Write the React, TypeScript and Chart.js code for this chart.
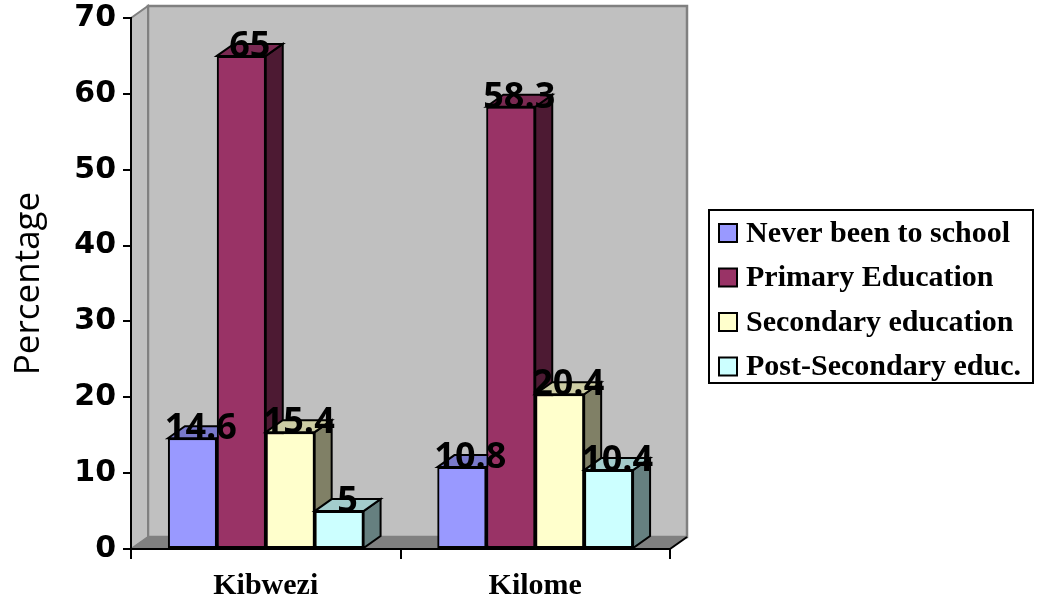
import { useEffect, useRef } from "react";
import { Chart, registerables } from "chart.js";

Chart.register(...registerables);

// Survey data: education level by location (percent)
const categories = ["Kibwezi", "Kilome"];
const seriesNames = [
  "Never been to school",
  "Primary Education",
  "Secondary education",
  "Post-Secondary educ.",
];
const neverBeen = [14.6, 10.8];
const primaryEd = [65, 58.3];
const secondaryEd = [15.4, 20.4];
const postSecondaryEd = [5, 10.4];
const yMin = 0;
const yMax = 70;
const yStep = 10;

const frontColors = ["#9999FF", "#993366", "#FFFFCC", "#CCFFFF"];

// depth of the pseudo-3D extrusion
const DX = 17;
const DY = -12;

function shade(hex: string, f: number): string {
  const n = parseInt(hex.slice(1), 16);
  const r = Math.round(((n >> 16) & 255) * f);
  const g = Math.round(((n >> 8) & 255) * f);
  const b = Math.round((n & 255) * f);
  return `rgb(${r},${g},${b})`;
}

function poly(ctx: CanvasRenderingContext2D, pts: number[][], fill: string, stroke: string, lw: number) {
  ctx.beginPath();
  ctx.moveTo(pts[0][0], pts[0][1]);
  for (let i = 1; i < pts.length; i++) ctx.lineTo(pts[i][0], pts[i][1]);
  ctx.closePath();
  ctx.fillStyle = fill;
  ctx.fill();
  ctx.lineWidth = lw;
  ctx.strokeStyle = stroke;
  ctx.lineJoin = "miter";
  ctx.stroke();
}

const room3d = {
  id: "room3d",
  beforeDraw(chart: any) {
    const { ctx, chartArea } = chart;
    const { left, right, top, bottom } = chartArea;
    ctx.save();
    // back wall
    poly(
      ctx,
      [
        [left + DX, top + DY],
        [right + DX, top + DY],
        [right + DX, bottom + DY],
        [left + DX, bottom + DY],
      ],
      "#C0C0C0",
      "#808080",
      2.5
    );
    // side wall
    poly(
      ctx,
      [
        [left, top],
        [left + DX, top + DY],
        [left + DX, bottom + DY],
        [left, bottom],
      ],
      "#C0C0C0",
      "#808080",
      2
    );
    // floor
    poly(
      ctx,
      [
        [left, bottom],
        [left + DX, bottom + DY],
        [right + DX, bottom + DY],
        [right, bottom],
      ],
      "#808080",
      "#808080",
      1
    );
    ctx.beginPath();
    ctx.moveTo(right, bottom);
    ctx.lineTo(right + DX, bottom + DY);
    ctx.strokeStyle = "#000";
    ctx.lineWidth = 2;
    ctx.stroke();
    ctx.restore();
  },
};

const bars3d = {
  id: "bars3d",
  afterDatasetsDraw(chart: any) {
    const { ctx } = chart;
    ctx.save();
    // redraw bars left to right so each front face hides the neighbour's side
    chart.data.datasets.forEach((ds: any, di: number) => {
      const meta = chart.getDatasetMeta(di);
      const base = frontColors[di];
      meta.data.forEach((el: any) => {
        const { x, y, base: b, width } = el.getProps(["x", "y", "base", "width"], true);
        const x0 = x - width / 2;
        const x1 = x + width / 2;
        poly(
          ctx,
          [
            [x1, y],
            [x1 + DX, y + DY],
            [x1 + DX, b + DY],
            [x1, b],
          ],
          shade(base, 0.5),
          "#000",
          2
        );
        poly(
          ctx,
          [
            [x0, y],
            [x0 + DX, y + DY],
            [x1 + DX, y + DY],
            [x1, y],
          ],
          shade(base, 0.8),
          "#000",
          2
        );
        el.draw(ctx);
      });
    });
    // value labels
    ctx.fillStyle = "#000";
    ctx.font = "bold 36px 'Open Sans'";
    ctx.textAlign = "center";
    ctx.textBaseline = "alphabetic";
    chart.data.datasets.forEach((ds: any, di: number) => {
      const meta = chart.getDatasetMeta(di);
      meta.data.forEach((el: any, i: number) => {
        const { x, y } = el.getProps(["x", "y"], true);
        ctx.fillText(String(ds.data[i]), x + DX / 2, y + 1);
      });
    });
    ctx.restore();
  },
};

const boxedLegend = {
  id: "boxedLegend",
  afterDraw(chart: any) {
    const { ctx } = chart;
    const bx = 709;
    const by = 210;
    const bw = 324;
    const bh = 173;
    ctx.save();
    ctx.fillStyle = "#fff";
    ctx.fillRect(bx, by, bw, bh);
    ctx.lineWidth = 2;
    ctx.strokeStyle = "#000";
    ctx.strokeRect(bx, by, bw, bh);
    ctx.font = "bold 30px 'Liberation Serif'";
    ctx.textAlign = "left";
    ctx.textBaseline = "middle";
    chart.data.datasets.forEach((ds: any, i: number) => {
      const cy = by + 23 + i * 44.5;
      ctx.fillStyle = frontColors[i];
      ctx.fillRect(719, cy - 9, 18, 18);
      ctx.strokeStyle = "#000";
      ctx.lineWidth = 2;
      ctx.strokeRect(719, cy - 9, 18, 18);
      ctx.fillStyle = "#000";
      ctx.fillText(ds.label, 746, cy + 1);
    });
    ctx.restore();
  },
};

export default function App() {
  const ref = useRef<HTMLCanvasElement | null>(null);

  useEffect(() => {
    if (!ref.current) return;
    const series = [neverBeen, primaryEd, secondaryEd, postSecondaryEd];
    const chart = new Chart(ref.current, {
      type: "bar",
      data: {
        labels: categories,
        datasets: series.map((values, i) => ({
          label: seriesNames[i],
          data: values,
          backgroundColor: frontColors[i],
          borderColor: "#000",
          borderWidth: 2,
          borderSkipped: false,
          barPercentage: 1,
          categoryPercentage: 0.726,
        })),
      },
      options: {
        responsive: false,
        animation: false,
        devicePixelRatio: 1,
        layout: { padding: { top: 18, right: 367, left: 0, bottom: 0 } },
        plugins: {
          legend: { display: false },
          tooltip: { enabled: false },
        },
        scales: {
          x: {
            afterFit: (s: any) => {
              s.height = 53;
              s.paddingLeft = 0;
              s.paddingRight = 0;
            },
            grid: {
              display: true,
              drawOnChartArea: false,
              drawTicks: true,
              tickLength: 10,
              color: "#000",
              lineWidth: 2,
              offset: true,
            },
            border: { display: true, color: "#000", width: 2 },
            ticks: {
              color: "#000",
              padding: 9,
              font: { family: "'Liberation Serif'", size: 30, weight: "bold" },
            },
          },
          y: {
            min: yMin,
            max: yMax,
            afterFit: (s: any) => {
              s.width = 131;
              s.paddingTop = 0;
              s.paddingBottom = 0;
            },
            grid: {
              display: true,
              drawOnChartArea: false,
              drawTicks: true,
              tickLength: 8,
              color: "#000",
              lineWidth: 2,
            },
            border: { display: true, color: "#000", width: 2 },
            ticks: {
              stepSize: yStep,
              color: "#000",
              padding: 7,
              font: { family: "'DejaVu Sans'", size: 30, weight: "bold" },
            },
            title: {
              display: true,
              text: "Percentage",
              color: "#000",
              padding: { top: 8, bottom: 0 },
              font: { family: "'Open Sans'", size: 35, weight: "normal" },
            },
          },
        },
      },
      plugins: [room3d, bars3d, boxedLegend],
    });
    return () => chart.destroy();
  }, []);

  return (
    <div style={{ position: "absolute", left: 0, top: 0, width: 1037, height: 602 }}>
      <canvas ref={ref} width={1037} height={602} style={{ display: "block" }} />
    </div>
  );
}
